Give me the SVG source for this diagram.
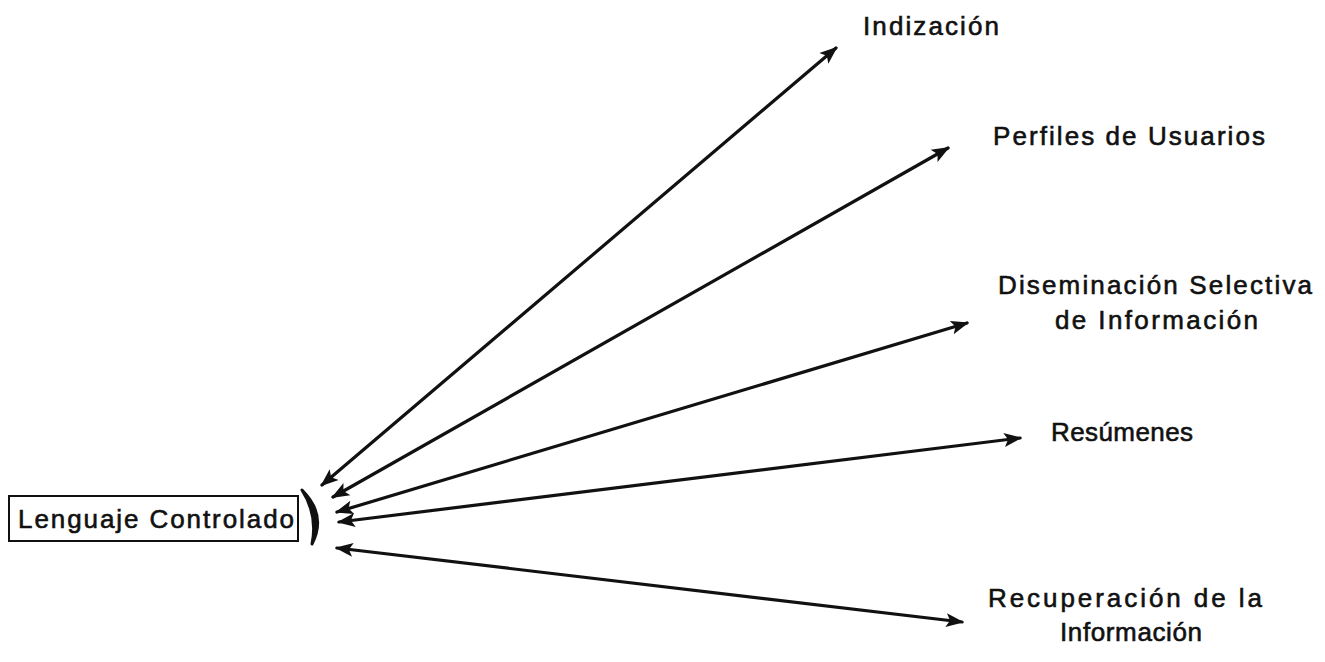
<svg xmlns="http://www.w3.org/2000/svg" width="1325" height="662" viewBox="0 0 1325 662">
<style>
.lbl{font-family:"Liberation Sans",Arial,sans-serif;font-size:26px;fill:#111;stroke:#111;stroke-width:0.6;}
.conn{stroke:#111;stroke-width:3.2;fill:none;stroke-linecap:round;}
</style>
<defs>
<marker id="ah" markerUnits="userSpaceOnUse" markerWidth="20" markerHeight="16" refX="16" refY="7" orient="auto-start-reverse" viewBox="0 0 20 14">
<path d="M0,0 L18,7 L0,14 L4,7 Z" fill="#111"/>
</marker>
</defs>
<rect width="1325" height="662" fill="#fff"/>
<g id="lenguaje">
<rect x="9" y="496" width="289" height="45" fill="none" stroke="#111" stroke-width="2"/>
<text class="lbl" x="18" y="528" font-size="28" textLength="276" lengthAdjust="spacing">Lenguaje Controlado</text>
<path d="M302,490 Q327,515 312,544 Q318,515 302,490 Z" fill="#111" stroke="#111" stroke-width="3" stroke-linejoin="round"/>
</g>
<g id="connectors">
<line class="conn" x1="322" y1="485" x2="836" y2="48" marker-start="url(#ah)" marker-end="url(#ah)"/>
<line class="conn" x1="333" y1="497" x2="948" y2="148" marker-start="url(#ah)" marker-end="url(#ah)"/>
<line class="conn" x1="337" y1="512" x2="967" y2="323" marker-start="url(#ah)" marker-end="url(#ah)"/>
<line class="conn" x1="339" y1="522" x2="1020" y2="438" marker-start="url(#ah)" marker-end="url(#ah)"/>
<line class="conn" x1="337" y1="548" x2="962" y2="622" marker-start="url(#ah)" marker-end="url(#ah)"/>
</g>
<g id="indizacion">
<text class="lbl" x="863" y="35" textLength="136" lengthAdjust="spacing">Indización</text>
</g>
<g id="perfiles">
<text class="lbl" x="993" y="145" textLength="272" lengthAdjust="spacing">Perfiles de Usuarios</text>
</g>
<g id="diseminacion">
<text class="lbl" x="998" y="294" textLength="314" lengthAdjust="spacing">Diseminación Selectiva</text>
<text class="lbl" x="1055" y="329" textLength="203" lengthAdjust="spacing">de Información</text>
</g>
<g id="resumenes">
<text class="lbl" x="1051" y="441" textLength="142" lengthAdjust="spacing">Resúmenes</text>
</g>
<g id="recuperacion">
<text class="lbl" x="988" y="607" textLength="274" lengthAdjust="spacing">Recuperación de la</text>
<text class="lbl" x="1060" y="641" textLength="142" lengthAdjust="spacing">Información</text>
</g>
</svg>
